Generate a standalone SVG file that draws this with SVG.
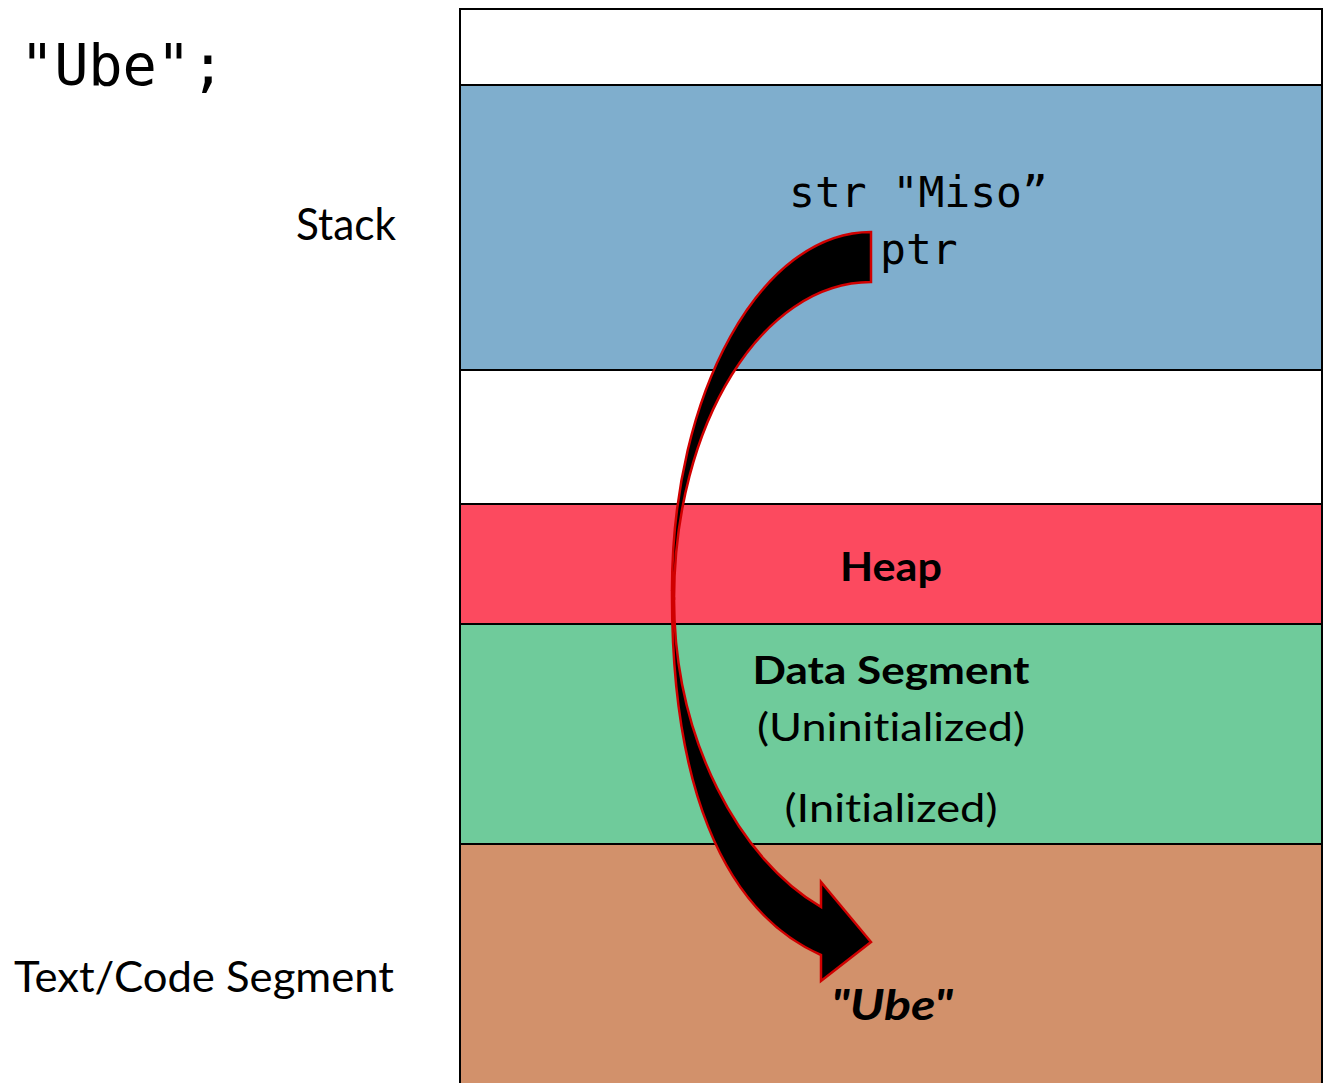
<svg xmlns="http://www.w3.org/2000/svg" width="1328" height="1083" viewBox="0 0 1328 1083">
  <style>
    .sans { font-family: Lato, "Open Sans", "Liberation Sans", sans-serif; fill: #000; font-variant-ligatures: none; font-feature-settings: "liga" 0, "clig" 0, "dlig" 0; }
    .mono { font-family: "DejaVu Sans Mono", "Liberation Mono", monospace; fill: #000; }
    .bold { font-weight: bold; }
    .divider { stroke: #000; stroke-width: 2; }
    .band { fill: #000; stroke: #D00000; stroke-width: 2.5; stroke-linejoin: miter; }
  </style>
  <rect width="1328" height="1083" fill="#FFFFFF"/>

  <!-- code fragment -->
  <text class="mono" x="20" y="85" font-size="57" textLength="205" lengthAdjust="spacing">"Ube";</text>

  <!-- side labels -->
  <text class="sans" x="296" y="240" font-size="44" textLength="100" lengthAdjust="spacingAndGlyphs">Stack</text>
  <text class="sans" x="14" y="992" font-size="42" textLength="380" lengthAdjust="spacingAndGlyphs">Text/Code Segment</text>

  <!-- memory layout column -->
  <g id="memory">
    <g id="free-top">
      <rect x="460" y="9" width="862" height="76" fill="#FFFFFF"/>
    </g>
    <g id="stack">
      <rect x="460" y="85" width="862" height="285" fill="#7FAECD"/>
      <text class="mono" x="789" y="207" font-size="43">str "Miso”</text>
      <text class="mono" x="880" y="264" font-size="43">ptr</text>
    </g>
    <g id="free-middle">
      <rect x="460" y="370" width="862" height="134" fill="#FFFFFF"/>
    </g>
    <g id="heap">
      <rect x="460" y="504" width="862" height="120" fill="#FC4A5F"/>
      <text class="sans bold" x="891" y="581" font-size="40" text-anchor="middle" textLength="102" lengthAdjust="spacingAndGlyphs">Heap</text>
    </g>
    <g id="data-segment">
      <rect x="460" y="624" width="862" height="220" fill="#6FCB9B"/>
      <text class="sans bold" x="891" y="684" font-size="39" text-anchor="middle" textLength="277" lengthAdjust="spacingAndGlyphs">Data Segment</text>
      <text class="sans" x="891" y="741" font-size="39" text-anchor="middle" textLength="268" lengthAdjust="spacingAndGlyphs">(Uninitialized)</text>
      <text class="sans" x="891" y="822" font-size="39" text-anchor="middle" textLength="213" lengthAdjust="spacingAndGlyphs">(Initialized)</text>
    </g>
    <g id="text-segment">
      <rect x="460" y="844" width="862" height="245" fill="#D2916B"/>
      <text class="sans bold" x="892" y="1020" font-size="42" font-style="italic" text-anchor="middle" textLength="122" lengthAdjust="spacingAndGlyphs">"Ube"</text>
    </g>
    <!-- outline and dividers -->
    <g id="outline">
      <path class="divider" fill="none" d="M460,1090 V9 H1322 V1090"/>
      <line class="divider" x1="460" y1="85" x2="1322" y2="85"/>
      <line class="divider" x1="460" y1="370" x2="1322" y2="370"/>
      <line class="divider" x1="460" y1="504" x2="1322" y2="504"/>
      <line class="divider" x1="460" y1="624" x2="1322" y2="624"/>
      <line class="divider" x1="460" y1="844" x2="1322" y2="844"/>
    </g>
  </g>

  <!-- curved pointer arrow: ptr -> "Ube" -->
  <g id="connectors">
    <path class="band" d="M871,232 C761,232 672,392 672,590 L674,600 C674,424 762,282 871,282 Z"/>
    <path class="band" d="M672,590 C671,780 720,910 821,955 L821,981 L871,942 L821,882 L821,907 C740,860 674,740 674,598 Z"/>
  </g>
</svg>
